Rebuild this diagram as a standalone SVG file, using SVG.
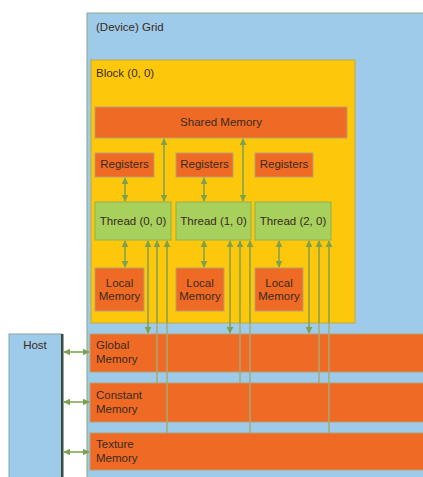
<svg xmlns="http://www.w3.org/2000/svg" width="423" height="477" viewBox="0 0 423 477">
<style>
text{font-family:"Liberation Sans",Arial,sans-serif;font-size:11.5px;fill:#3a2a20}
.grid{fill:#9ecbea;stroke:#8aa88a;stroke-width:1}
.block{fill:#fdc80c;stroke:#c0a840;stroke-width:1}
.mem{fill:#ef6a25;stroke:#b8a070;stroke-width:1}
.thr{fill:#a8d05c;stroke:#8fb050;stroke-width:1}
.host{fill:#9ecbea;stroke:#8aa0a0;stroke-width:1}
.a{stroke:#7ea14e;stroke-width:1.5;fill:none}
.l{stroke:#a9a877;stroke-width:1.5;fill:none}
.c{text-anchor:middle}
</style>
<defs>
<marker id="ah" viewBox="0 0 10 10" refX="9" refY="5" markerWidth="7" markerHeight="7" markerUnits="userSpaceOnUse" orient="auto-start-reverse">
<path d="M0,0 L10,5 L0,10 z" fill="#7ea14e"/>
</marker>
</defs>
<g id="grid"><rect class="grid" x="87" y="13" width="345" height="470"/><text x="96" y="31">(Device) Grid</text></g>
<g id="block"><rect class="block" x="91" y="60" width="264" height="263"/><text x="96" y="77">Block (0, 0)</text></g>
<g id="shared"><rect class="mem" x="95" y="107" width="252" height="31"/><text class="c" x="221" y="126">Shared Memory</text></g>
<g id="reg0"><rect class="mem" x="95" y="153" width="59" height="24"/><text class="c" x="124.5" y="168">Registers</text></g>
<g id="reg1"><rect class="mem" x="176" y="153" width="57" height="24"/><text class="c" x="204.5" y="168">Registers</text></g>
<g id="reg2"><rect class="mem" x="255" y="153" width="58" height="24"/><text class="c" x="284" y="168">Registers</text></g>
<g id="thr0"><rect class="thr" x="95" y="202" width="76" height="38"/><text class="c" x="133" y="225">Thread (0, 0)</text></g>
<g id="thr1"><rect class="thr" x="176" y="202" width="75" height="38"/><text class="c" x="213.5" y="225">Thread (1, 0)</text></g>
<g id="thr2"><rect class="thr" x="255" y="202" width="76" height="38"/><text class="c" x="293" y="225">Thread (2, 0)</text></g>
<g id="loc0"><rect class="mem" x="95" y="268" width="49" height="43"/><text class="c" x="119.5" y="287">Local</text><text class="c" x="119.5" y="300">Memory</text></g>
<g id="loc1"><rect class="mem" x="176" y="268" width="48" height="43"/><text class="c" x="200" y="287">Local</text><text class="c" x="200" y="300">Memory</text></g>
<g id="loc2"><rect class="mem" x="255" y="268" width="48" height="43"/><text class="c" x="279" y="287">Local</text><text class="c" x="279" y="300">Memory</text></g>
<g id="global"><rect class="mem" x="90" y="334" width="340" height="38"/><text x="96" y="349">Global</text><text x="96" y="363">Memory</text></g>
<g id="constant"><rect class="mem" x="90" y="383" width="340" height="39"/><text x="96" y="399">Constant</text><text x="96" y="413">Memory</text></g>
<g id="texture"><rect class="mem" x="90" y="433" width="340" height="37"/><text x="96" y="448">Texture</text><text x="96" y="462">Memory</text></g>
<g id="host"><rect class="host" x="9" y="334" width="53" height="150"/><rect x="61" y="334" width="2.5" height="150" fill="#3c4a3c"/><text class="c" x="35" y="349">Host</text></g>
<g id="connectors">
<line class="a" x1="164" y1="201" x2="164" y2="139" marker-start="url(#ah)" marker-end="url(#ah)"/>
<line class="a" x1="243" y1="201" x2="243" y2="139" marker-start="url(#ah)" marker-end="url(#ah)"/>
<line class="a" x1="125" y1="178" x2="125" y2="201" marker-start="url(#ah)" marker-end="url(#ah)"/>
<line class="a" x1="204" y1="178" x2="204" y2="201" marker-start="url(#ah)" marker-end="url(#ah)"/>
<line class="a" x1="125" y1="241" x2="125" y2="267" marker-start="url(#ah)" marker-end="url(#ah)"/>
<line class="a" x1="204" y1="241" x2="204" y2="267" marker-start="url(#ah)" marker-end="url(#ah)"/>
<line class="a" x1="279" y1="241" x2="279" y2="267" marker-start="url(#ah)" marker-end="url(#ah)"/>
<line class="a" x1="148" y1="241" x2="148" y2="333" marker-start="url(#ah)" marker-end="url(#ah)"/>
<line class="a" x1="230" y1="241" x2="230" y2="333" marker-start="url(#ah)" marker-end="url(#ah)"/>
<line class="a" x1="309" y1="241" x2="309" y2="333" marker-start="url(#ah)" marker-end="url(#ah)"/>
<line class="l" x1="157" y1="383" x2="157" y2="323"/>
<line class="l" x1="167" y1="433" x2="167" y2="323"/>
<line class="l" x1="240" y1="383" x2="240" y2="323"/>
<line class="l" x1="250" y1="433" x2="250" y2="323"/>
<line class="l" x1="319" y1="383" x2="319" y2="323"/>
<line class="l" x1="329" y1="433" x2="329" y2="323"/>
<line class="a" x1="157" y1="323" x2="157" y2="241" marker-end="url(#ah)"/>
<line class="a" x1="167" y1="323" x2="167" y2="241" marker-end="url(#ah)"/>
<line class="a" x1="240" y1="323" x2="240" y2="241" marker-end="url(#ah)"/>
<line class="a" x1="250" y1="323" x2="250" y2="241" marker-end="url(#ah)"/>
<line class="a" x1="319" y1="323" x2="319" y2="241" marker-end="url(#ah)"/>
<line class="a" x1="329" y1="323" x2="329" y2="241" marker-end="url(#ah)"/>
<line class="a" x1="64" y1="352" x2="89" y2="352" marker-start="url(#ah)" marker-end="url(#ah)"/>
<line class="a" x1="64" y1="402" x2="89" y2="402" marker-start="url(#ah)" marker-end="url(#ah)"/>
<line class="a" x1="64" y1="452" x2="89" y2="452" marker-start="url(#ah)" marker-end="url(#ah)"/>
</g>
</svg>
